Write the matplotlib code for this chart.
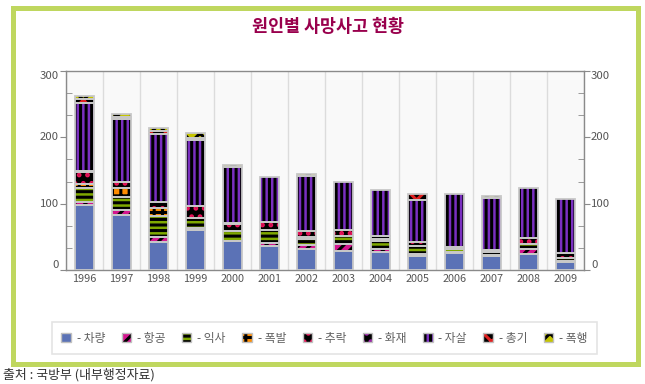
import matplotlib
matplotlib.use("Agg")
import matplotlib.pyplot as plt
import matplotlib.transforms as mtransforms
import numpy as np
from matplotlib.patches import Rectangle, Patch
from matplotlib.legend_handler import HandlerTuple

plt.rcParams['font.family'] = ['Noto Sans CJK KR', 'DejaVu Sans']
plt.rcParams['hatch.linewidth'] = 2.2

years = ['1996', '1997', '1998', '1999', '2000', '2001', '2002',
         '2003', '2004', '2005', '2006', '2007', '2008', '2009']
car = [98, 83, 42, 61, 43, 36, 32, 29, 27, 21, 25, 21, 24, 12]
air = [4, 8, 7, 2, 1, 5, 5, 10, 4, 3, 2, 1, 8, 1]
drown = [22, 19, 33, 16, 15, 20, 10, 12, 13, 12, 4, 5, 7, 5]
explode = [5, 13, 12, 0, 0, 0, 2, 0, 3, 0, 0, 0, 0, 0]
fall = [19, 10, 9, 17, 10, 11, 10, 10, 4, 6, 3, 3, 9, 8]
fire = [2, 0, 0, 0, 2, 0, 0, 0, 0, 0, 0, 0, 0, 0]
suicide = [102, 95, 102, 100, 84, 68, 83, 72, 70, 64, 80, 79, 76, 81]
gun = [6, 3, 5, 3, 0, 0, 0, 0, 0, 9, 0, 0, 0, 0]
assault = [5, 4, 4, 7, 3, 0, 3, 0, 0, 0, 0, 3, 0, 0]

labels = ['차량', '항공', '익사', '폭발', '추락', '화재', '자살', '총기', '폭행']
series = [car, air, drown, explode, fall, fire, suicide, gun, assault]
ytick_vals = [0, 100, 200, 300]
ytick_text = ['0', '100', '200', '300']
# (face, hatch, hatch colour)
styles = [
    ('#5b72b6', None, '#5b72b6'),
    ('#d4158f', '///', '#000000'),
    ('#7fa800', '---', '#000000'),
    ('#ff8c00', '++', '#000000'),
    ('#000000', '..', '#e8145a'),
    ('#000000', '..', '#9b20a8'),
    ('#7a2fc0', '|||', '#000000'),
    ('#000000', 'xx', '#e02020'),
    ('#c4c400', 'xx', '#000000'),
]

fig = plt.figure(figsize=(6.45, 3.84), dpi=100)
W, H = 645, 384

# green frame
fig.patches.append(Rectangle((12.5 / W, (H - 363.5) / H), (637.5 - 12.5) / W, (363.5 - 7.5) / H,
                             transform=fig.transFigure, fill=False, edgecolor='#bfd75f',
                             linewidth=3.6, zorder=0))

ax = fig.add_axes([66 / W, (H - 270) / H, (584 - 66) / W, (270 - 71) / H])
ax.set_facecolor('#f9f9f9')
x = np.arange(len(years))
width = 0.53
bottom = np.zeros(len(years))
for vals, (fc, hatch, hc) in zip(series, styles):
    v = np.array(vals, dtype=float)
    mask = v > 0
    ax.bar(x[mask], v[mask], width, bottom=bottom[mask], color=fc, hatch=hatch,
           edgecolor=hc, linewidth=0, zorder=2)
    ax.bar(x[mask], v[mask], width, bottom=bottom[mask], fill=False,
           edgecolor='#c8c8c8', linewidth=1.3, zorder=3)
    bottom += v

ax.set_xlim(-0.5, len(years) - 0.5)
ax.set_ylim(0, 300)
ax.set_xticks(x)
ax.set_xticklabels(years)
ax.set_xticks(np.arange(-0.5, len(years), 1), minor=True)
ax.grid(which='minor', axis='x', color='#dcdcdc', linewidth=1, zorder=0)
ax.set_yticks(ytick_vals)
ax.set_yticks([100 / 3, 200 / 3, 400 / 3, 500 / 3, 700 / 3, 800 / 3], minor=True)
for s in ax.spines.values():
    s.set_color('#8a8a8a')
    s.set_linewidth(1)
ax.tick_params(axis='x', which='both', length=0, labelsize=7.8, labelcolor='#555555', pad=3)
ax.tick_params(axis='y', which='major', direction='out', length=4, color='#8a8a8a',
               left=True, right=True, labelleft=False, labelright=False)
ax.tick_params(axis='y', which='minor', direction='in', length=4, color='#8a8a8a',
               left=True, right=True)

# y tick labels: outer ones pulled inside the axis range, as in the reference
tl = mtransforms.blended_transform_factory(ax.transAxes, ax.transData)
for val, txt in zip(ytick_vals, ytick_text):
    va = 'center'
    if val >= 300:
        va = 'top'
    elif val <= 0:
        va = 'bottom'
    ax.text(-0.0135, val, txt, transform=tl, ha='right', va=va, fontsize=8.2,
            color='#555555', clip_on=False)
    ax.text(1.0135, val, txt, transform=tl, ha='left', va=va, fontsize=8.2,
            color='#555555', clip_on=False)

fig.text(328 / W, 1 - 27 / H, '원인별 사망사고 현황', ha='center', va='center',
         fontsize=12.5, fontweight='bold', color='#99004d')
fig.text(3 / W, 1 - 375 / H, '출처 : 국방부 (내부행정자료)', ha='left', va='center',
         fontsize=9.3, color='#333333')

handles = [(Patch(facecolor=fc, hatch=h, edgecolor=hc, linewidth=0),
            Patch(fill=False, edgecolor='#c0c0c0', linewidth=1.0)) for fc, h, hc in styles]
leg = fig.legend(handles, ['- ' + l for l in labels], ncol=9, mode='expand',
                 loc='lower left',
                 bbox_to_anchor=(52 / W, (H - 354) / H, 545 / W, 31 / H),
                 handler_map={tuple: HandlerTuple(ndivide=1)},
                 frameon=True, fancybox=False, edgecolor='#dddddd',
                 fontsize=8.5, handlelength=0.8, handleheight=0.8,
                 handletextpad=0.5, columnspacing=0.3, borderaxespad=0.0,
                 borderpad=0.8)
leg.get_frame().set_linewidth(1.2)
for t in leg.get_texts():
    t.set_color('#606060')

fig.savefig('out.png', dpi=100)
